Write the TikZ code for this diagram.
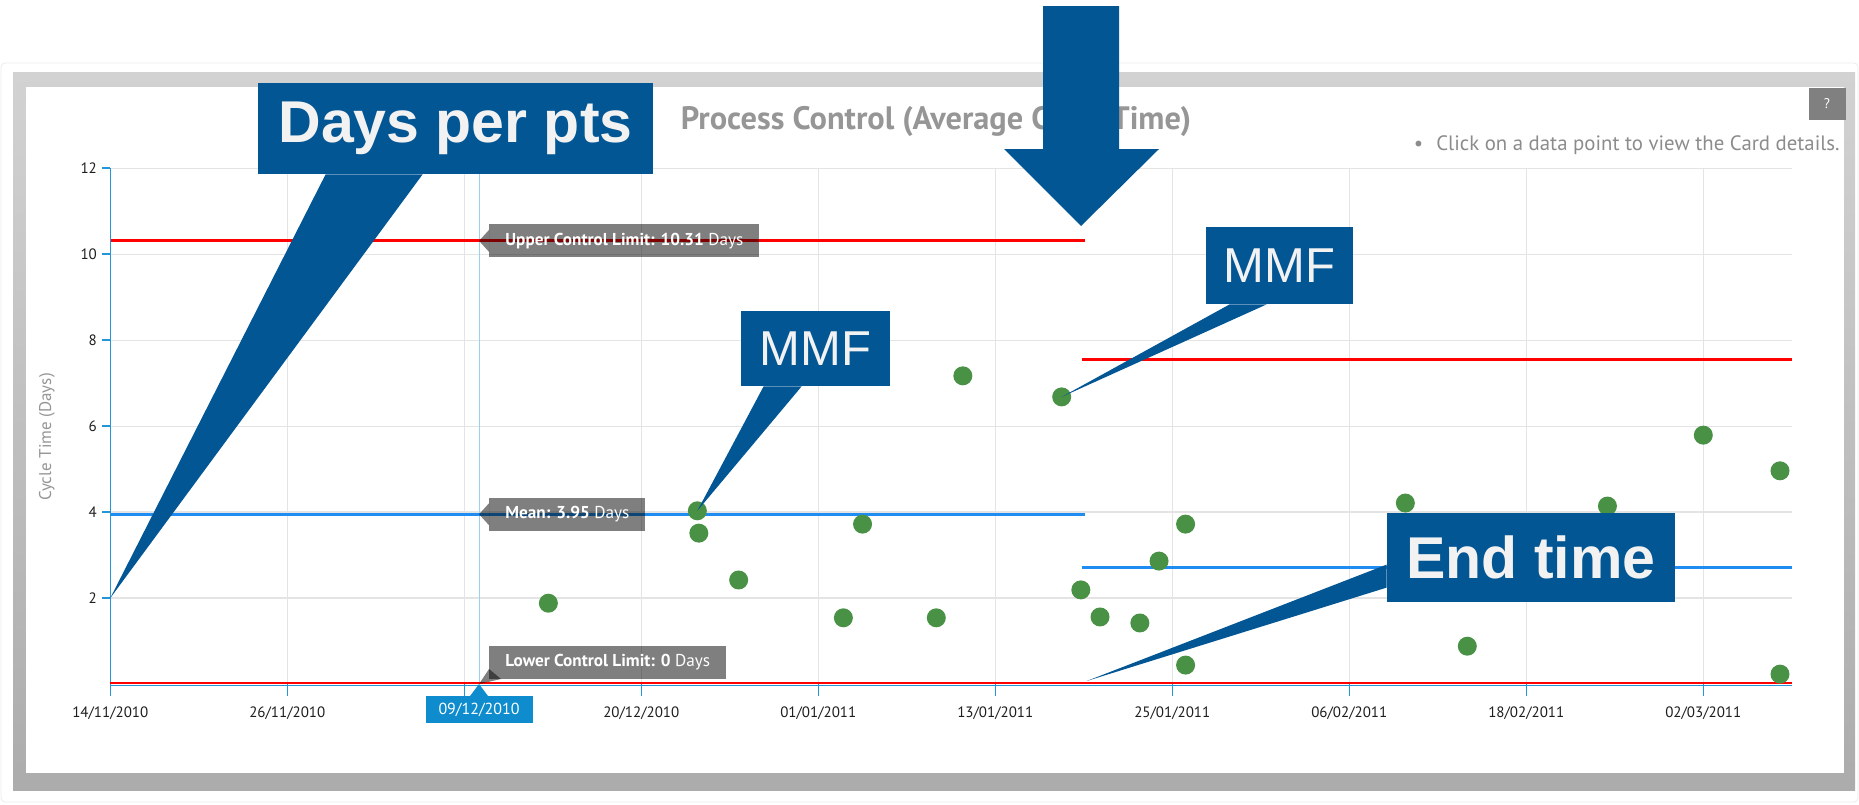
\documentclass[tikz,border=0pt]{standalone}
\usepackage{fontspec}
\setmainfont{Liberation Sans}
\newfontfamily\chartfont{PT Sans}
\usetikzlibrary{positioning}

\definecolor{callblue}{RGB}{2,86,148}
\definecolor{calltext}{RGB}{242,242,242}
\definecolor{dotgreen}{RGB}{73,145,69}
\definecolor{meanblue}{RGB}{30,140,240}
\definecolor{axisblue}{RGB}{35,150,215}
\definecolor{gridgray}{RGB}{228,228,228}
\definecolor{titlegray}{RGB}{150,150,150}
\definecolor{hintgray}{RGB}{140,140,140}
\definecolor{ticktext}{RGB}{30,30,30}
\definecolor{datecol}{RGB}{14,140,205}
\definecolor{frametop}{RGB}{210,210,210}
\definecolor{framebot}{RGB}{172,172,172}

\begin{document}
\begin{tikzpicture}[x=0.5pt, y=-0.5pt]
  \tikzset{
    callout/.style={fill=callblue, text=calltext, inner sep=0pt, font=\fontsize{29.5}{31}\selectfont\bfseries},
    mmf/.style={fill=callblue, text=calltext, inner sep=0pt, font=\fontsize{24.5}{26}\selectfont},
    gridline/.style={gridgray, line width=0.6pt},
    chartaxis/.style={axisblue, line width=0.8pt},
    crosshair/.style={axisblue!45, line width=0.5pt},
    ctrl/.style={red, line width=1.5pt},
    meanline/.style={meanblue, line width=1.5pt},
    tag/.style={fill=black, fill opacity=0.5, text opacity=1, text=white, inner xsep=8pt, inner ysep=0pt, minimum height=16.5pt, font=\chartfont\fontsize{8.6}{10}\selectfont},
    tagfill/.style={fill=black, fill opacity=0.5},
    datetag/.style={fill=datecol, text=white, inner sep=0pt, minimum width=53.5pt, minimum height=13.5pt, font=\chartfont\fontsize{8}{9}\selectfont},
    ticklabel/.style={text=ticktext, inner sep=0pt, font=\chartfont\fontsize{7.5}{9}\selectfont},
    datapt/.style={circle, fill=dotgreen, inner sep=0pt, minimum size=9.5pt},
  }
  \useasboundingbox (0,0) rectangle (1859,804);
  % frame
  \draw[black!8, rounded corners=2pt] (1,63) rectangle (1858,802);
  \shade[top color=frametop, bottom color=framebot] (13,72) rectangle (1855,790);
  \fill[white] (26,87) rectangle (1844,773);
  %
  \node[inner sep=0pt, text=titlegray, font=\chartfont\bfseries\fontsize{16.2}{18}\selectfont] (title) at (936,121) {Process Control (Average Cycle Time)};
  \node[anchor=east, inner sep=0pt, text=hintgray, font=\chartfont\fontsize{10.4}{12}\selectfont] (hint) at (1840,145) {\textbullet\hspace{6.5pt}Click on a data point to view the Card details.};
  \node[fill=black!50, text=white, inner sep=0pt, minimum width=18.5pt, minimum height=16pt, font=\chartfont\fontsize{7}{8}\selectfont] (help) at (1827,104) {?};
  \node[rotate=90, inner sep=0pt, text=titlegray, font=\chartfont\fontsize{8.5}{10}\selectfont] (ytitle) at (47,437) {Cycle Time (Days)};
  %
  \begin{scope}[shift={(55.15pt,-342pt)}, x=7.375pt, y=21.49pt]
    \foreach \v in {2,4,...,12}
      \draw[gridline] (0,\v) -- (114,\v);
    \foreach \k in {1,...,9}
      \draw[gridline] (12*\k,0) -- (12*\k,12);
    \draw[crosshair] (25,0) -- (25,12);
    %
    \draw[ctrl] (0,10.31) -- (66.1,10.31);
    \draw[meanline] (0,3.95) -- (66.1,3.95);
    \draw[ctrl] (65.9,7.56) -- (114,7.56);
    \draw[meanline] (65.9,2.70) -- (114,2.70);
    %
    \draw[chartaxis] (0,0) -- (0,12);
    \draw[chartaxis] (0,-0.03) -- (114,-0.03);
    \draw[red, line width=1pt] (0,0.02) -- (114,0.02);
    \foreach \v in {2,4,...,12} {
      \draw[chartaxis] (0,\v) -- ++(-4pt,0pt) coordinate (yt\v);
      \node[ticklabel, anchor=east, xshift=-2.5pt] (y\v) at (yt\v) {\v};
    }
    \foreach \k in {0,...,9}
      \draw[chartaxis] (12*\k,0) -- ++(0pt,-6pt);
    \foreach \k/\d in {0/{14/11/2010}, 1/{26/11/2010}, 3/{20/12/2010}, 4/{01/01/2011}, 5/{13/01/2011}, 6/{25/01/2011}, 7/{06/02/2011}, 8/{18/02/2011}, 9/{02/03/2011}}
      \node[ticklabel, yshift=-14.5pt] (x\k) at (12*\k,0) {\d};
    %
    \foreach \d/\v [count=\i] in {29.7/1.88, 39.8/4.03, 39.9/3.51, 42.6/2.42, 49.7/1.54, 51.0/3.72, 56.0/1.54, 57.8/7.17, 64.5/6.68, 65.8/2.19, 67.1/1.56, 69.8/1.42, 71.1/2.86, 72.9/3.72, 72.9/0.44, 87.8/4.21, 92.0/0.88, 101.5/4.14, 108.0/5.79, 113.2/4.96, 113.2/0.23}
      \node[datapt] (p\i) at (\d,\v) {};
    %
    \coordinate (pin2) at (0,2);
    \coordinate (endpin) at (66.2,0.07);
    \coordinate (uclpin) at (25,10.31);
    \coordinate (meanpin) at (25,3.95);
    \coordinate (lclpin) at (25,0);
  \end{scope}
  %
  \node[tag, right=5pt of uclpin] (ucl) {\textbf{Upper Control Limit: 10.31} Days};
  \fill[tagfill] ([yshift=5.5pt]ucl.west) -- (uclpin) -- ([yshift=-5.5pt]ucl.west) -- cycle;
  \node[tag, right=5pt of meanpin] (mean) {\textbf{Mean: 3.95} Days};
  \fill[tagfill] ([yshift=5.5pt]mean.west) -- (meanpin) -- ([yshift=-5.5pt]mean.west) -- cycle;
  \node[tag, above right=2.5pt and 5pt of lclpin] (lcl) {\textbf{Lower Control Limit: 0} Days};
  \fill[tagfill] ([yshift=5pt]lcl.south west) -- (lclpin) -- ([xshift=6pt]lcl.south west) -- cycle;
  \node[datetag, below=6pt of lclpin] (seldate) {09/12/2010};
  \fill[datecol] ([xshift=-4.5pt]seldate.north) -- (lclpin) -- ([xshift=4.5pt]seldate.north) -- cycle;
  %
  \node[callout, minimum width=197.5pt, minimum height=45.5pt] (days) at (455.5,128.5) {Days per pts};
  \fill[callblue] ([xshift=34pt]days.south west) -- (pin2) -- ([xshift=82.5pt]days.south west) -- cycle;
  \node[mmf, minimum width=74.5pt, minimum height=37.5pt] (mmf1) at (815.5,348.5) {MMF};
  \fill[callblue] ([xshift=11.5pt]mmf1.south west) -- (p2.center) -- ([xshift=30.5pt]mmf1.south west) -- cycle;
  \node[mmf, minimum width=73.5pt, minimum height=38.5pt] (mmf2) at (1279.5,265.5) {MMF};
  \fill[callblue] ([xshift=12pt]mmf2.south west) -- (p9.center) -- ([xshift=30.5pt]mmf2.south west) -- cycle;
  \node[callout, minimum width=144pt, minimum height=44.5pt] (endt) at (1531,557.5) {End time};
  \fill[callblue] ([yshift=-26pt]endt.north west) -- (endpin) -- ([yshift=-37.5pt]endt.north west) -- cycle;
  % down arrow
  \fill[callblue] (1043,6) -- (1119,6) -- (1119,149) -- (1159,149) -- (1081,226) -- (1004,149) -- (1043,149) -- cycle;
\end{tikzpicture}
\end{document}
